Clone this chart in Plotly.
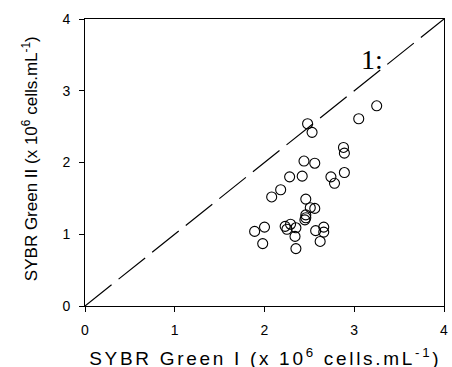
import plotly.graph_objects as go

# Data (x 10^6 cells/mL)
sybr1 = [2.48, 2.53, 2.88, 2.89, 2.44, 2.56, 2.28, 2.42, 2.74, 2.78, 2.89, 2.18,
         2.08, 2.46, 2.51, 2.56, 2.46, 2.46, 2.45, 2.23, 2.29, 2.25, 2.35, 2.34,
         2.57, 2.66, 2.66, 2.62, 2.35, 1.89, 2.00, 1.98, 3.25, 3.05]
sybr2 = [2.54, 2.42, 2.21, 2.13, 2.02, 1.99, 1.80, 1.81, 1.80, 1.71, 1.86, 1.62,
         1.52, 1.49, 1.37, 1.36, 1.27, 1.23, 1.20, 1.11, 1.14, 1.07, 1.09, 0.97,
         1.05, 1.10, 1.03, 0.90, 0.80, 1.04, 1.10, 0.87, 2.79, 2.61]
one_to_one = [0, 4]
tick_vals = [0, 1, 2, 3, 4]
tick_text = ["0", "1", "2", "3", "4"]
x_title = "SYBR Green I (x 10<sup>6</sup> cells.mL<sup>-1</sup>)"
y_title = "SYBR Green II (x 10<sup>6</sup> cells.mL<sup>-1</sup>)"

fig = go.Figure()
fig.add_trace(go.Scatter(x=one_to_one, y=one_to_one, mode="lines",
                         line=dict(color="black", width=1.2, dash="34px,9px"),
                         hoverinfo="skip", showlegend=False))
fig.add_trace(go.Scatter(x=sybr1, y=sybr2, mode="markers",
                         marker=dict(symbol="circle-open", size=10,
                                     color="black", line=dict(width=1.1)),
                         showlegend=False))

fig.add_annotation(x=3.2, y=3.43, text="1:", showarrow=False,
                   font=dict(family="Liberation Serif", size=28, color="black"))

fig.add_annotation(xref="paper", yref="paper", x=0.5, y=-0.176,
                   xanchor="center", yanchor="middle", text=x_title,
                   showarrow=False,
                   font=dict(family="Liberation Sans", size=19, color="black"))
fig.add_annotation(xref="paper", yref="paper", x=-0.153, y=0.512,
                   xanchor="center", yanchor="middle", text=y_title,
                   textangle=-90, showarrow=False,
                   font=dict(family="Liberation Sans", size=17, color="black"))

axis_common = dict(range=[0, 4], tickvals=tick_vals, ticktext=tick_text,
                   showgrid=False, zeroline=False, showline=True,
                   linecolor="black", linewidth=1, mirror=True,
                   ticks="outside", ticklen=5, tickcolor="black",
                   ticklabelstandoff=6, ticklabeloverflow="allow",
                   tickfont=dict(family="Liberation Sans", size=14, color="black"))

fig.update_xaxes(**axis_common)
fig.update_yaxes(**axis_common)

fig.update_layout(width=452, height=367,
                  margin=dict(l=85, r=4, t=19, b=61),
                  plot_bgcolor="white", paper_bgcolor="white")

# remove the default page margin so the figure fills the window exactly,
# and give the x-axis title the wide letter spacing of the reference
post = (
    "document.body.style.margin='0';"
    "document.body.style.overflow='hidden';"
    "document.querySelectorAll('text.annotation-text').forEach(function(t){"
    "  if (t.textContent.indexOf('Green I (') >= 0) {"
    "    t.style.letterSpacing='2.7px';"
    "  }"
    "});"
)
fig.write_html("out.html", config={"displayModeBar": False}, post_script=post)
